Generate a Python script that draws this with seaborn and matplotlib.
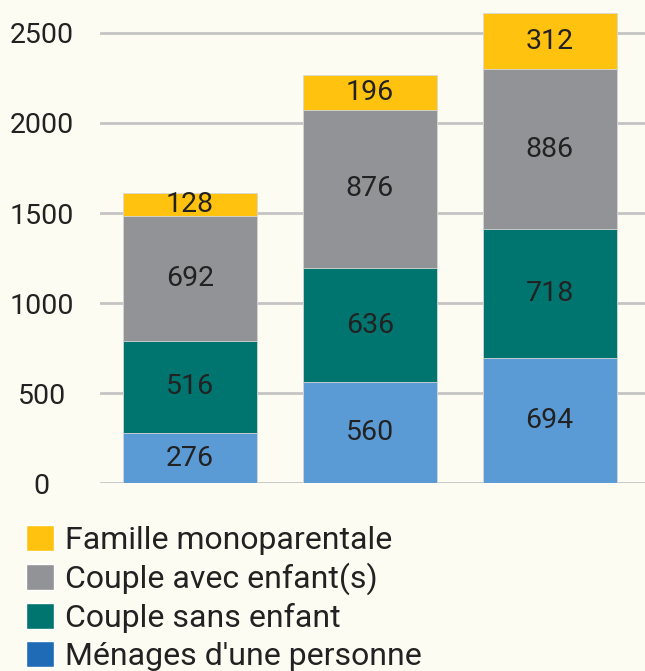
import matplotlib
matplotlib.use('Agg')
import matplotlib.pyplot as plt
import seaborn as sns
import numpy as np
import pandas as pd
from matplotlib.patches import Patch

# data (bottom to top of each stack)
groups = ['A', 'B', 'C']
menages_une_personne = [276, 560, 694]
couple_sans_enfant = [516, 636, 718]
couple_avec_enfants = [692, 876, 886]
famille_monoparentale = [128, 196, 312]

series_names = ["Ménages d'une personne", 'Couple sans enfant',
                'Couple avec enfant(s)', 'Famille monoparentale']
series_vals = [menages_une_personne, couple_sans_enfant,
               couple_avec_enfants, famille_monoparentale]
bar_colors = ['#5B9BD5', '#007570', '#929396', '#FFC20E']
legend_colors = ['#1F6BB5', '#007570', '#929396', '#FFC20E']

bg = '#FDFCF3'
sns.set_theme(style='white')
plt.rcParams['font.family'] = ['Roboto', 'DejaVu Sans']

fig = plt.figure(figsize=(6.45, 6.71), dpi=100)
fig.set_facecolor(bg)
ax = fig.add_axes([0.155, 0.280, 0.845, 0.7125])
ax.set_facecolor(bg)

df = pd.DataFrame({'group': groups})
cum = np.cumsum(np.array(series_vals), axis=0)
# overlay cumulative totals, tallest first
for i in range(len(series_vals) - 1, -1, -1):
    df['val'] = cum[i]
    sns.barplot(data=df, x='group', y='val', color=bar_colors[i],
                saturation=1, width=0.745, edgecolor='#d8d8d8',
                linewidth=0.6, ax=ax, zorder=3)

for i, vals in enumerate(series_vals):
    for j, v in enumerate(vals):
        mid = cum[i][j] - v / 2
        ax.text(j, mid, str(v), ha='center', va='center', fontsize=20.5,
                color='#222222', zorder=5)

ax.set_ylim(0, 2655)
ax.set_xlim(-0.5, 2.53)
ax.set_yticks([0, 500, 1000, 1500, 2000, 2500])
ax.yaxis.grid(True, color='#C4C4C4', linewidth=2, zorder=0)
ax.set_axisbelow(True)
ax.tick_params(axis='y', labelsize=20.5, length=0, pad=42, labelcolor='#222222')
for lab in ax.get_yticklabels():
    lab.set_horizontalalignment('center')
ax.set_xticks([])
ax.set_xlabel('')
ax.set_ylabel('')
for s in ax.spines.values():
    s.set_visible(False)

handles = [Patch(facecolor=legend_colors[i], label=series_names[i])
           for i in range(3, -1, -1)]
fig.legend(handles=handles, loc='upper left', bbox_to_anchor=(0.04, 0.2175),
           frameon=False, fontsize=23, handlelength=0.87, handleheight=0.87,
           handletextpad=0.35, labelspacing=0.245, borderpad=0,
           borderaxespad=0, labelcolor='#222222')

fig.savefig('out.png', dpi=100, facecolor=bg)
